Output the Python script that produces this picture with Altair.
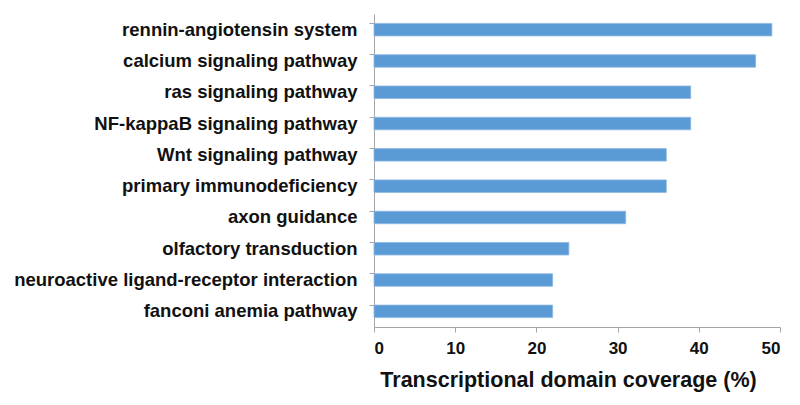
import altair as alt
import pandas as pd

pathways = [
    "rennin-angiotensin system",
    "calcium signaling pathway",
    "ras signaling pathway",
    "NF-kappaB signaling pathway",
    "Wnt signaling pathway",
    "primary immunodeficiency",
    "axon guidance",
    "olfactory transduction",
    "neuroactive ligand-receptor interaction",
    "fanconi anemia pathway",
]
coverage = [49, 47, 39, 39, 36, 36, 31, 24, 22, 22]

df = pd.DataFrame({"pathway": pathways, "coverage": coverage})

chart = (
    alt.Chart(df)
    .mark_bar(color="#5B9BD5", stroke="#8DB8E3", strokeWidth=0.8)
    .encode(
        y=alt.Y(
            "pathway:N",
            sort=pathways,
            title=None,
            scale=alt.Scale(paddingInner=0.6, paddingOuter=0.3),
            axis=alt.Axis(
                bandPosition=0,
                labelFont="Liberation Sans",
                labelFontWeight="bold",
                labelFontSize=18.5,
                labelColor="#111111",
                labelPadding=12,
                tickSize=5,
                tickColor="#a6a6a6",
                domainColor="#a6a6a6",
                labelLimit=600,
            ),
        ),
        x=alt.X(
            "coverage:Q",
            title="Transcriptional domain coverage (%)",
            scale=alt.Scale(domain=[0, 50], nice=False),
            axis=alt.Axis(
                values=[0, 10, 20, 30, 40, 50],
                grid=False,
                labelFont="Liberation Sans",
                labelFontWeight="bold",
                labelFontSize=17,
                labelColor="#111111",
                labelPadding=8,
                tickSize=5,
                tickColor="#a6a6a6",
                domainColor="#a6a6a6",
                titleFont="Liberation Sans",
                titleFontWeight="bold",
                titleFontSize=21.5,
                titleColor="#111111",
                titlePadding=13,
                titleX=194,
            ),
        ),
    )
    .properties(
        width=406,
        height=313,
        padding={"left": 5, "top": 6, "right": 5, "bottom": 5},
    )
    .configure_view(strokeWidth=0)
)

chart.save("out.html", embed_options={"renderer": "svg", "actions": False})
